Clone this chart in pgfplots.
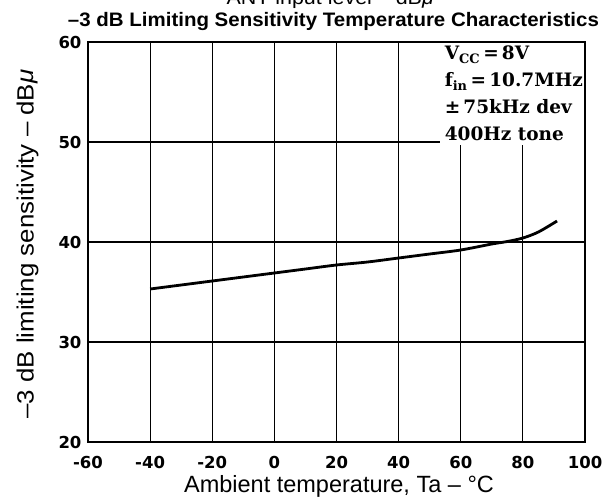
\documentclass[border=0pt]{standalone}
\usepackage{pgfplots}
\pgfplotsset{compat=1.18}
\usepackage{fontspec}
\setmainfont{Liberation Sans}
\newfontfamily\tickfont{DejaVu Sans}
\newfontfamily\notefont{DejaVu Serif}
\begin{document}
\begin{tikzpicture}
\begin{axis}[
  at={(0pt,0pt)}, anchor=south west,
  scale only axis, width=497pt, height=400pt,
  xmin=-60, xmax=100, ymin=20, ymax=60,
  xtick={-60,-40,-20,0,20,40,60,80,100},
  xticklabels={-60,-40,-20,0,20,40,60,80,100},
  ytick={20,30,40,50,60},
  yticklabels={20,30,40,50,60},
  grid=major,
  major grid style={black, line width=1.1pt},
  axis line style={black, line width=1.4pt},
  major tick length=0pt,
  ticklabel style={font=\tickfont\bfseries\fontsize{16.5}{16.5}\selectfont, text=black},
  xticklabel style={yshift=-11pt},
  yticklabel style={xshift=-3pt},
  clip=false,
]
\addplot[black, line width=2.8pt, smooth] coordinates {
  (-40,35.3) (-30,35.7) (-20,36.1) (-10,36.5) (0,36.9) (10,37.3)
  (20,37.7) (30,38.0) (40,38.4) (50,38.8) (60,39.2) (70,39.8)
  (75,40.05) (80,40.4) (85,41.0) (91,42.1)
};
\fill[white] (axis cs:53.3,59.85) rectangle (axis cs:99.8,49.7);
\node[anchor=base west, inner sep=0pt,
      font=\notefont\bfseries\fontsize{18.5}{26.7}\selectfont]
  at (axis cs:54.8,58.2)
  {\begin{tabular}[t]{@{}l@{}}
   V\textsubscript{CC}\,=\,8V\\
   f\textsubscript{in}\,=\,10.7MHz\\
   ±\,75kHz dev\\
   400Hz tone\end{tabular}};
\draw[black, line width=1.4pt] (rel axis cs:0,0) rectangle (rel axis cs:1,1);
\end{axis}
\node[anchor=base west, font=\fontsize{19.5}{19.5}\selectfont] at (135pt,437pt) {\scalebox{1.1}[1]{ANT input level – dB\textit{μ}}};
\node[anchor=base, font=\bfseries\fontsize{19.5}{19.5}\selectfont] at (245.5pt,415pt)
  {\scalebox{1.05}[1]{–3 dB Limiting Sensitivity Temperature Characteristics}};
\node[anchor=base, font=\fontsize{23.5}{23.5}\selectfont] at (251pt,-50.5pt)
  {Ambient temperature, Ta – °C};
\node[rotate=90, anchor=center, font=\fontsize{23.5}{23.5}\selectfont] at (-60.5pt,198pt)
  {\scalebox{1.1}[1]{–3 dB limiting sensitivity – dB\textit{μ}}};
\pgfresetboundingbox
\useasboundingbox (-88pt,-56pt) rectangle (527pt,442pt);
\end{tikzpicture}
\end{document}
